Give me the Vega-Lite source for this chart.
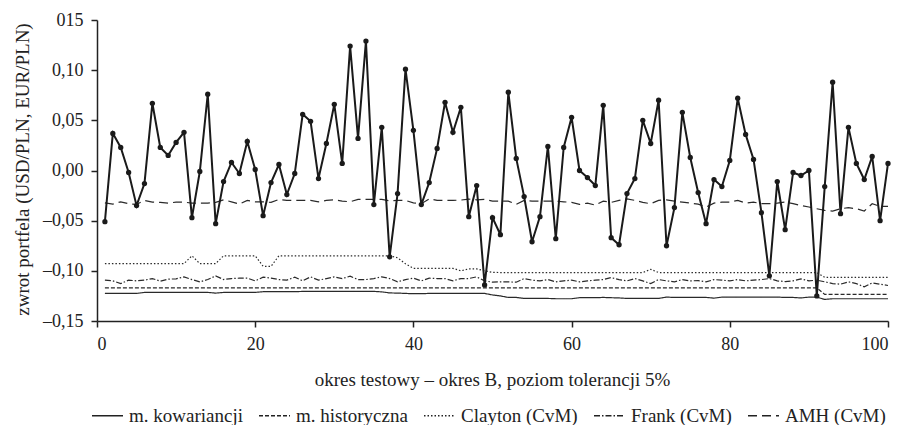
{
  "$schema": "https://vega.github.io/schema/vega-lite/v6.json",
  "width": 791,
  "height": 301,
  "autosize": {"type": "none"},
  "padding": {"left": 97, "top": 20, "right": 21, "bottom": 104},
  "background": "white",
  "config": {
    "view": {"stroke": null},
    "font": "Liberation Serif",
    "axis": {
      "grid": false,
      "domainColor": "#222",
      "tickColor": "#222",
      "labelColor": "#222",
      "titleColor": "#222",
      "labelFont": "Liberation Serif",
      "titleFont": "Liberation Serif",
      "titleFontWeight": "normal",
      "labelFontSize": 18,
      "titleFontSize": 19,
      "domainWidth": 1.5,
      "tickWidth": 1.5,
      "tickSize": 6
    },
    "legend": {
      "labelFont": "Liberation Serif",
      "labelFontSize": 19,
      "labelColor": "#222"
    }
  },
  "data": {
    "values": [
      {"t":1,"ret":-0.051,"kow":-0.1225,"hist":-0.117,"clay":-0.0928,"frank":-0.1093,"amh":-0.0322},
      {"t":2,"ret":0.037,"kow":-0.1225,"hist":-0.117,"clay":-0.0928,"frank":-0.1100,"amh":-0.0335},
      {"t":3,"ret":0.023,"kow":-0.1225,"hist":-0.117,"clay":-0.0928,"frank":-0.1127,"amh":-0.0312},
      {"t":4,"ret":-0.002,"kow":-0.1225,"hist":-0.117,"clay":-0.0928,"frank":-0.1093,"amh":-0.0331},
      {"t":5,"ret":-0.035,"kow":-0.1225,"hist":-0.117,"clay":-0.0928,"frank":-0.1100,"amh":-0.0338},
      {"t":6,"ret":-0.013,"kow":-0.1215,"hist":-0.117,"clay":-0.0928,"frank":-0.1093,"amh":-0.0298},
      {"t":7,"ret":0.067,"kow":-0.1215,"hist":-0.117,"clay":-0.0928,"frank":-0.1077,"amh":-0.0315},
      {"t":8,"ret":0.023,"kow":-0.1215,"hist":-0.117,"clay":-0.0928,"frank":-0.1103,"amh":-0.0318},
      {"t":9,"ret":0.015,"kow":-0.1215,"hist":-0.117,"clay":-0.0928,"frank":-0.1083,"amh":-0.0325},
      {"t":10,"ret":0.028,"kow":-0.1215,"hist":-0.117,"clay":-0.0928,"frank":-0.1080,"amh":-0.0315},
      {"t":11,"ret":0.038,"kow":-0.1215,"hist":-0.117,"clay":-0.0928,"frank":-0.1060,"amh":-0.0315},
      {"t":12,"ret":-0.047,"kow":-0.1215,"hist":-0.117,"clay":-0.0850,"frank":-0.1087,"amh":-0.0325},
      {"t":13,"ret":-0.001,"kow":-0.1215,"hist":-0.117,"clay":-0.0928,"frank":-0.1110,"amh":-0.0325},
      {"t":14,"ret":0.076,"kow":-0.1215,"hist":-0.117,"clay":-0.0928,"frank":-0.1087,"amh":-0.0325},
      {"t":15,"ret":-0.053,"kow":-0.1222,"hist":-0.117,"clay":-0.0928,"frank":-0.1050,"amh":-0.0318},
      {"t":16,"ret":-0.011,"kow":-0.1215,"hist":-0.117,"clay":-0.0850,"frank":-0.1087,"amh":-0.0292},
      {"t":17,"ret":0.008,"kow":-0.1215,"hist":-0.117,"clay":-0.0850,"frank":-0.1077,"amh":-0.0312},
      {"t":18,"ret":-0.003,"kow":-0.1215,"hist":-0.117,"clay":-0.0850,"frank":-0.1073,"amh":-0.0335},
      {"t":19,"ret":0.029,"kow":-0.1215,"hist":-0.117,"clay":-0.0850,"frank":-0.1073,"amh":-0.0298},
      {"t":20,"ret":0.001,"kow":-0.1215,"hist":-0.117,"clay":-0.0850,"frank":-0.1100,"amh":-0.0312},
      {"t":21,"ret":-0.045,"kow":-0.1208,"hist":-0.117,"clay":-0.0955,"frank":-0.1063,"amh":-0.0312},
      {"t":22,"ret":-0.012,"kow":-0.1208,"hist":-0.117,"clay":-0.0955,"frank":-0.1073,"amh":-0.0318},
      {"t":23,"ret":0.006,"kow":-0.1208,"hist":-0.117,"clay":-0.0850,"frank":-0.1087,"amh":-0.0288},
      {"t":24,"ret":-0.024,"kow":-0.1208,"hist":-0.117,"clay":-0.0850,"frank":-0.1093,"amh":-0.0298},
      {"t":25,"ret":-0.003,"kow":-0.1208,"hist":-0.117,"clay":-0.0850,"frank":-0.1063,"amh":-0.0298},
      {"t":26,"ret":0.056,"kow":-0.1205,"hist":-0.117,"clay":-0.0850,"frank":-0.1100,"amh":-0.0298},
      {"t":27,"ret":0.049,"kow":-0.1205,"hist":-0.117,"clay":-0.0850,"frank":-0.1060,"amh":-0.0298},
      {"t":28,"ret":-0.008,"kow":-0.1205,"hist":-0.117,"clay":-0.0850,"frank":-0.1093,"amh":-0.0312},
      {"t":29,"ret":0.027,"kow":-0.1205,"hist":-0.117,"clay":-0.0850,"frank":-0.1077,"amh":-0.0298},
      {"t":30,"ret":0.066,"kow":-0.1205,"hist":-0.117,"clay":-0.0850,"frank":-0.1060,"amh":-0.0292},
      {"t":31,"ret":0.007,"kow":-0.1205,"hist":-0.117,"clay":-0.0850,"frank":-0.1077,"amh":-0.0305},
      {"t":32,"ret":0.124,"kow":-0.1205,"hist":-0.117,"clay":-0.0850,"frank":-0.1054,"amh":-0.0312},
      {"t":33,"ret":0.032,"kow":-0.1205,"hist":-0.117,"clay":-0.0850,"frank":-0.1087,"amh":-0.0288},
      {"t":34,"ret":0.129,"kow":-0.1205,"hist":-0.117,"clay":-0.0850,"frank":-0.1087,"amh":-0.0288},
      {"t":35,"ret":-0.034,"kow":-0.1205,"hist":-0.117,"clay":-0.0850,"frank":-0.1077,"amh":-0.0288},
      {"t":36,"ret":0.043,"kow":-0.1210,"hist":-0.117,"clay":-0.0850,"frank":-0.1060,"amh":-0.0288},
      {"t":37,"ret":-0.086,"kow":-0.1220,"hist":-0.117,"clay":-0.0850,"frank":-0.1077,"amh":-0.0302},
      {"t":38,"ret":-0.023,"kow":-0.1222,"hist":-0.117,"clay":-0.0870,"frank":-0.1110,"amh":-0.0298},
      {"t":39,"ret":0.101,"kow":-0.1225,"hist":-0.117,"clay":-0.0930,"frank":-0.1087,"amh":-0.0298},
      {"t":40,"ret":0.040,"kow":-0.1228,"hist":-0.117,"clay":-0.0975,"frank":-0.1073,"amh":-0.0322},
      {"t":41,"ret":-0.034,"kow":-0.1228,"hist":-0.117,"clay":-0.0975,"frank":-0.1100,"amh":-0.0331},
      {"t":42,"ret":-0.012,"kow":-0.1225,"hist":-0.117,"clay":-0.0975,"frank":-0.1073,"amh":-0.0282},
      {"t":43,"ret":0.022,"kow":-0.1225,"hist":-0.117,"clay":-0.0975,"frank":-0.1077,"amh":-0.0298},
      {"t":44,"ret":0.068,"kow":-0.1225,"hist":-0.117,"clay":-0.0975,"frank":-0.1077,"amh":-0.0298},
      {"t":45,"ret":0.038,"kow":-0.1225,"hist":-0.117,"clay":-0.0975,"frank":-0.1100,"amh":-0.0298},
      {"t":46,"ret":0.063,"kow":-0.1225,"hist":-0.117,"clay":-0.1000,"frank":-0.1077,"amh":-0.0295},
      {"t":47,"ret":-0.046,"kow":-0.1225,"hist":-0.117,"clay":-0.0980,"frank":-0.1077,"amh":-0.0285},
      {"t":48,"ret":-0.015,"kow":-0.1225,"hist":-0.117,"clay":-0.0980,"frank":-0.1060,"amh":-0.0292},
      {"t":49,"ret":-0.114,"kow":-0.1225,"hist":-0.117,"clay":-0.1000,"frank":-0.1100,"amh":-0.0288},
      {"t":50,"ret":-0.047,"kow":-0.1240,"hist":-0.117,"clay":-0.1015,"frank":-0.1113,"amh":-0.0305},
      {"t":51,"ret":-0.064,"kow":-0.1250,"hist":-0.117,"clay":-0.1017,"frank":-0.1110,"amh":-0.0305},
      {"t":52,"ret":0.078,"kow":-0.1265,"hist":-0.117,"clay":-0.1017,"frank":-0.1110,"amh":-0.0305},
      {"t":53,"ret":0.012,"kow":-0.1265,"hist":-0.117,"clay":-0.1017,"frank":-0.1113,"amh":-0.0338},
      {"t":54,"ret":-0.026,"kow":-0.1275,"hist":-0.117,"clay":-0.1017,"frank":-0.1077,"amh":-0.0298},
      {"t":55,"ret":-0.071,"kow":-0.1275,"hist":-0.117,"clay":-0.1017,"frank":-0.1093,"amh":-0.0305},
      {"t":56,"ret":-0.046,"kow":-0.1275,"hist":-0.117,"clay":-0.1017,"frank":-0.1100,"amh":-0.0305},
      {"t":57,"ret":0.024,"kow":-0.1275,"hist":-0.117,"clay":-0.1017,"frank":-0.1087,"amh":-0.0305},
      {"t":58,"ret":-0.068,"kow":-0.1278,"hist":-0.117,"clay":-0.1017,"frank":-0.1110,"amh":-0.0305},
      {"t":59,"ret":0.023,"kow":-0.1278,"hist":-0.117,"clay":-0.1017,"frank":-0.1100,"amh":-0.0312},
      {"t":60,"ret":0.053,"kow":-0.1278,"hist":-0.117,"clay":-0.1017,"frank":-0.1093,"amh":-0.0318},
      {"t":61,"ret":0.000,"kow":-0.1268,"hist":-0.117,"clay":-0.1017,"frank":-0.1110,"amh":-0.0338},
      {"t":62,"ret":-0.007,"kow":-0.1268,"hist":-0.117,"clay":-0.1017,"frank":-0.1100,"amh":-0.0325},
      {"t":63,"ret":-0.015,"kow":-0.1268,"hist":-0.117,"clay":-0.1017,"frank":-0.1093,"amh":-0.0345},
      {"t":64,"ret":0.065,"kow":-0.1265,"hist":-0.117,"clay":-0.1017,"frank":-0.1087,"amh":-0.0305},
      {"t":65,"ret":-0.067,"kow":-0.1268,"hist":-0.117,"clay":-0.1017,"frank":-0.1067,"amh":-0.0318},
      {"t":66,"ret":-0.074,"kow":-0.1270,"hist":-0.117,"clay":-0.1017,"frank":-0.1087,"amh":-0.0298},
      {"t":67,"ret":-0.023,"kow":-0.1275,"hist":-0.117,"clay":-0.1017,"frank":-0.1100,"amh":-0.0282},
      {"t":68,"ret":-0.008,"kow":-0.1275,"hist":-0.117,"clay":-0.1017,"frank":-0.1077,"amh":-0.0298},
      {"t":69,"ret":0.050,"kow":-0.1275,"hist":-0.117,"clay":-0.1017,"frank":-0.1100,"amh":-0.0318},
      {"t":70,"ret":0.027,"kow":-0.1275,"hist":-0.117,"clay":-0.0985,"frank":-0.1127,"amh":-0.0331},
      {"t":71,"ret":0.070,"kow":-0.1275,"hist":-0.117,"clay":-0.1017,"frank":-0.1087,"amh":-0.0298},
      {"t":72,"ret":-0.075,"kow":-0.1262,"hist":-0.117,"clay":-0.1017,"frank":-0.1100,"amh":-0.0292},
      {"t":73,"ret":-0.037,"kow":-0.1265,"hist":-0.117,"clay":-0.1017,"frank":-0.1110,"amh":-0.0305},
      {"t":74,"ret":0.058,"kow":-0.1265,"hist":-0.117,"clay":-0.1017,"frank":-0.1087,"amh":-0.0315},
      {"t":75,"ret":0.013,"kow":-0.1265,"hist":-0.117,"clay":-0.1017,"frank":-0.1100,"amh":-0.0325},
      {"t":76,"ret":-0.022,"kow":-0.1265,"hist":-0.117,"clay":-0.1017,"frank":-0.1097,"amh":-0.0335},
      {"t":77,"ret":-0.053,"kow":-0.1265,"hist":-0.117,"clay":-0.1017,"frank":-0.1110,"amh":-0.0364},
      {"t":78,"ret":-0.009,"kow":-0.1272,"hist":-0.117,"clay":-0.1017,"frank":-0.1087,"amh":-0.0325},
      {"t":79,"ret":-0.016,"kow":-0.1262,"hist":-0.117,"clay":-0.1017,"frank":-0.1093,"amh":-0.0315},
      {"t":80,"ret":0.010,"kow":-0.1262,"hist":-0.117,"clay":-0.1017,"frank":-0.1100,"amh":-0.0315},
      {"t":81,"ret":0.072,"kow":-0.1262,"hist":-0.117,"clay":-0.1017,"frank":-0.1087,"amh":-0.0298},
      {"t":82,"ret":0.036,"kow":-0.1262,"hist":-0.117,"clay":-0.1017,"frank":-0.1100,"amh":-0.0325},
      {"t":83,"ret":0.011,"kow":-0.1262,"hist":-0.117,"clay":-0.1017,"frank":-0.1093,"amh":-0.0315},
      {"t":84,"ret":-0.042,"kow":-0.1262,"hist":-0.117,"clay":-0.1017,"frank":-0.1087,"amh":-0.0331},
      {"t":85,"ret":-0.105,"kow":-0.1262,"hist":-0.117,"clay":-0.1017,"frank":-0.1077,"amh":-0.0331},
      {"t":86,"ret":-0.011,"kow":-0.1262,"hist":-0.117,"clay":-0.1017,"frank":-0.1100,"amh":-0.0325},
      {"t":87,"ret":-0.059,"kow":-0.1265,"hist":-0.117,"clay":-0.1017,"frank":-0.1107,"amh":-0.0315},
      {"t":88,"ret":-0.002,"kow":-0.1265,"hist":-0.117,"clay":-0.1017,"frank":-0.1100,"amh":-0.0331},
      {"t":89,"ret":-0.005,"kow":-0.1270,"hist":-0.117,"clay":-0.1017,"frank":-0.1080,"amh":-0.0348},
      {"t":90,"ret":0.000,"kow":-0.1262,"hist":-0.117,"clay":-0.1017,"frank":-0.1100,"amh":-0.0364},
      {"t":91,"ret":-0.125,"kow":-0.1262,"hist":-0.117,"clay":-0.1017,"frank":-0.1093,"amh":-0.0381},
      {"t":92,"ret":-0.016,"kow":-0.1285,"hist":-0.1235,"clay":-0.1065,"frank":-0.1110,"amh":-0.0398},
      {"t":93,"ret":0.088,"kow":-0.1278,"hist":-0.1235,"clay":-0.1065,"frank":-0.1127,"amh":-0.0404},
      {"t":94,"ret":-0.043,"kow":-0.1278,"hist":-0.1235,"clay":-0.1065,"frank":-0.1133,"amh":-0.0381},
      {"t":95,"ret":0.043,"kow":-0.1278,"hist":-0.1235,"clay":-0.1065,"frank":-0.1110,"amh":-0.0371},
      {"t":96,"ret":0.007,"kow":-0.1278,"hist":-0.1235,"clay":-0.1065,"frank":-0.1127,"amh":-0.0381},
      {"t":97,"ret":-0.009,"kow":-0.1278,"hist":-0.1235,"clay":-0.1065,"frank":-0.1160,"amh":-0.0404},
      {"t":98,"ret":0.014,"kow":-0.1278,"hist":-0.1235,"clay":-0.1065,"frank":-0.1120,"amh":-0.0331},
      {"t":99,"ret":-0.050,"kow":-0.1278,"hist":-0.1235,"clay":-0.1065,"frank":-0.1133,"amh":-0.0358},
      {"t":100,"ret":0.007,"kow":-0.1278,"hist":-0.1235,"clay":-0.1065,"frank":-0.1146,"amh":-0.0358}
    ]
  },
  "layer": [
    {
      "transform": [{"fold": ["kow", "hist", "clay", "frank", "amh"], "as": ["series", "v"]}],
      "mark": {"type": "line", "strokeWidth": 1.2, "color": "#2a2a2a"},
      "encoding": {
        "x": {
          "field": "t",
          "type": "quantitative",
          "scale": {"domain": [0, 100], "nice": false},
          "axis": {
            "values": [0, 20, 40, 60, 80, 100],
            "title": "okres testowy – okres B, poziom tolerancji 5%",
            "labelPadding": 8,
            "titleX": 395,
            "titleY": 64,
            "titleBaseline": "alphabetic"
          }
        },
        "y": {
          "field": "v",
          "type": "quantitative",
          "scale": {"domain": [-0.15, 0.15], "nice": false, "zero": false},
          "axis": {
            "values": [-0.15, -0.1, -0.05, 0, 0.05, 0.1, 0.15],
            "labelExpr": "abs(datum.value - 0.15) < 0.001 ? '015' : (datum.value < -0.0001 ? '–' : '') + replace(format(abs(datum.value), '.2f'), '.', ',')",
            "labelPadding": 8,
            "title": "zwrot portfela (USD/PLN, EUR/PLN)",
            "titleX": -69,
            "titleY": 149,
            "titleBaseline": "alphabetic"
          }
        },
        "strokeDash": {
          "field": "series",
          "type": "nominal",
          "scale": {
            "domain": ["kow", "hist", "clay", "frank", "amh"],
            "range": [[1, 0], [4, 2], [1.5, 2], [6, 2, 1.5, 2], [9, 5]]
          },
          "legend": {
            "title": null,
            "orient": "none",
            "direction": "horizontal",
            "legendX": -6,
            "legendY": 379,
            "symbolType": "stroke",
            "symbolSize": 961,
            "symbolStrokeWidth": 1.3,
            "symbolStrokeColor": "#222",
            "labelOffset": 5,
            "columnPadding": 13,
            "labelExpr": "datum.label == 'kow' ? 'm. kowariancji' : datum.label == 'hist' ? 'm. historyczna' : datum.label == 'clay' ? 'Clayton (CvM)' : datum.label == 'frank' ? 'Frank (CvM)' : 'AMH (CvM)'"
          }
        }
      }
    },
    {
      "mark": {
        "type": "line",
        "color": "#1a1a1a",
        "strokeWidth": 2,
        "point": {"filled": true, "size": 28, "color": "#1a1a1a"}
      },
      "encoding": {
        "x": {"field": "t", "type": "quantitative"},
        "y": {"field": "ret", "type": "quantitative"}
      }
    }
  ]
}
